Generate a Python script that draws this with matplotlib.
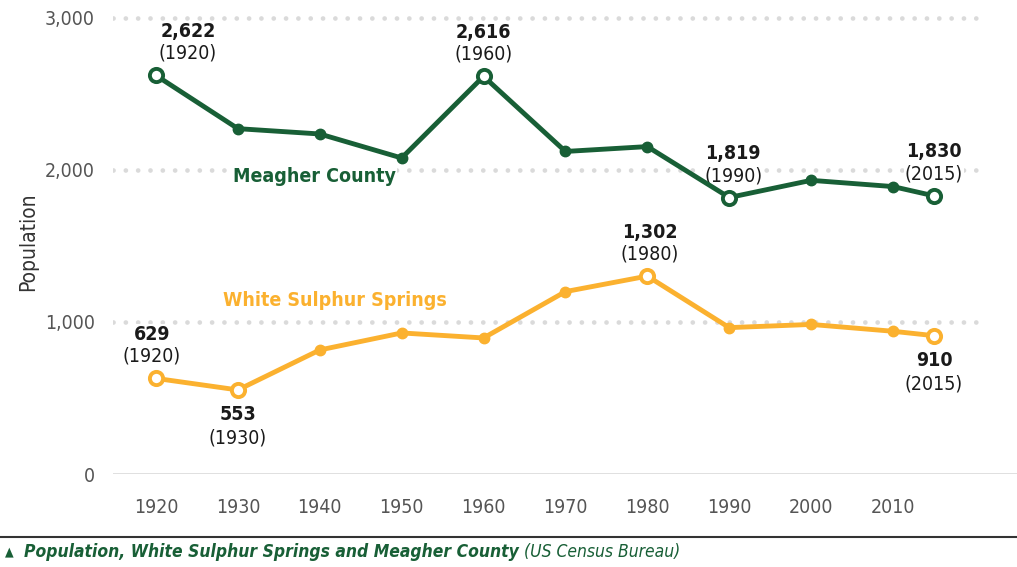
import matplotlib
matplotlib.use("Agg")
import matplotlib.pyplot as plt
from matplotlib import font_manager as fm

years = [1920, 1930, 1940, 1950, 1960, 1970, 1980, 1990, 2000, 2010, 2015]
meagher = [2622, 2272, 2237, 2079, 2616, 2122, 2154, 1819, 1932, 1891, 1830]
wss = [629, 553, 816, 928, 895, 1200, 1302, 963, 984, 939, 910]
tick_years = [1920, 1930, 1940, 1950, 1960, 1970, 1980, 1990, 2000, 2010]
y_ticks = [0, 1000, 2000, 3000]

# which points get the open marker and a value label, with label offsets (px)
meagher_marks = {1920: (32, 1), 1960: (0, 1), 1990: (4, 1), 2015: (0, 1)}
wss_marks = {1920: (-4, 1), 1930: (0, -1), 1980: (2, 1), 2015: (0, -1)}

GREEN = "#185f36"
ORANGE = "#fbb12f"
GREY = "#555555"
WHITE_BOX = dict(facecolor="white", edgecolor="none", pad=1)

# look for a narrow face, the original uses a condensed type
names = {f.name for f in fm.fontManager.ttflist}
cond = [f for f in fm.fontManager.ttflist
        if f.name == "DejaVu Sans" and "ondensed" in f.fname]
if "Liberation Sans Narrow" in names:
    plt.rcParams["font.family"] = ["Liberation Sans Narrow", "DejaVu Sans"]
elif cond:
    plt.rcParams["font.family"] = ["DejaVu Sans"]
    plt.rcParams["font.stretch"] = "condensed"
else:
    plt.rcParams["font.family"] = ["Liberation Sans", "DejaVu Sans"]

fig = plt.figure(figsize=(10.17, 5.67), dpi=100)
ax = fig.add_axes([113 / 1017, 1 - 474 / 567, 1 - 113 / 1017, 464 / 567])
px_yr = (893 - 156) / 90
ax.set_xlim(1920 - 43 / px_yr, 1920 + (1017 - 156) / px_yr)
ax.set_ylim(0, 3000 + 8 / 0.152)

x_end = 1920 + (978 - 156) / px_yr
for t in y_ticks[1:]:
    ax.plot([ax.get_xlim()[0], x_end], [t, t], color="#dadada", lw=3.4,
            ls=(0, (0.01, 2.6)), dash_capstyle="round", zorder=1)
ax.axhline(0, color="#dddddd", lw=2, zorder=1)

for s in ax.spines.values():
    s.set_visible(False)
ax.set_xticks(tick_years)
ax.set_xticklabels([str(y) for y in tick_years])
ax.set_yticks(y_ticks)
ax.set_yticklabels([f"{t:,}" for t in y_ticks])
ax.tick_params(length=0, labelsize=14, colors=GREY)
ax.tick_params(axis="x", pad=17)
ax.tick_params(axis="y", pad=13)
ax.set_ylabel("Population", fontsize=15, color="#333333")
ax.yaxis.set_label_coords(-(113 - 38) / 904, 0.5)


def label(x, v, dx, dy, txt, bold):
    ax.annotate(txt, (x, v), xytext=(dx, dy), textcoords="offset pixels",
                ha="center", va="center", fontsize=14, color="#1a1a1a",
                fontweight="bold" if bold else "normal", bbox=WHITE_BOX, zorder=2)


def draw(vals, color, marks):
    ax.plot(years, vals, color=color, lw=3.5, zorder=3)
    for x, v in zip(years, vals):
        if x in marks:
            ax.plot(x, v, "o", ms=9.5, mfc="white", mec=color, mew=2.8, zorder=4)
            dx, side = marks[x]
            if side > 0:
                label(x, v, dx, 44, f"{v:,}", True)
                label(x, v, dx, 22, f"({x})", False)
            else:
                label(x, v, dx, -25, f"{v:,}", True)
                label(x, v, dx, -48, f"({x})", False)
        else:
            ax.plot(x, v, "o", ms=7.5, color=color, zorder=4)


draw(meagher, GREEN, meagher_marks)
draw(wss, ORANGE, wss_marks)

ax.text(1939.3, 1960, "Meagher County", ha="center", va="center",
        fontsize=14, fontweight="bold", color=GREEN, bbox=WHITE_BOX, zorder=2)
ax.text(1941.8, 1140, "White Sulphur Springs", ha="center", va="center",
        fontsize=14, fontweight="bold", color=ORANGE, bbox=WHITE_BOX, zorder=2)

fig.add_artist(plt.Line2D([0, 1], [1 - 537 / 567] * 2, color="#333333", lw=1.5))
fig.text(5 / 1017, 1 - 552 / 567, "\u25b2", fontsize=9, color=GREEN, va="center",
         family=["DejaVu Sans"])
t1 = fig.text(24 / 1017, 1 - 552 / 567, "Population, White Sulphur Springs and Meagher County",
              fontsize=12.5, fontweight="bold", style="italic", color=GREEN, va="center")
fig.canvas.draw()
bb = t1.get_window_extent()
fig.text((bb.x1 + 5) / 1017, 1 - 552 / 567, "(US Census Bureau)",
         fontsize=12.5, style="italic", color=GREEN, va="center")

fig.savefig("out.png", dpi=100)
